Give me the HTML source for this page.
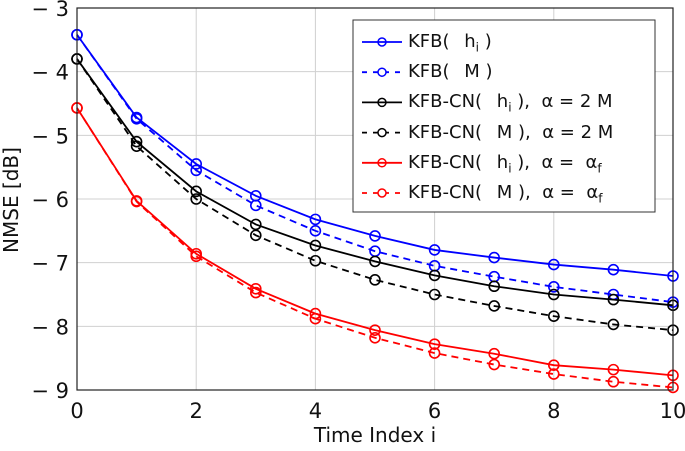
<!DOCTYPE html>
<html><head><meta charset="utf-8"><style>
body{margin:0;background:#fff}
svg{font-family:"DejaVu Sans","Liberation Sans",sans-serif}
</style></head><body>
<svg id="c" width="685" height="446">
<rect x="0" y="0" width="685" height="446" fill="#fff"/>
<g id="grid"></g><g id="series"></g><g id="axes"></g>
</svg>
<script>
const xs=[0,1,2,3,4,5,6,7,8,9,10];
const kfbH=[-3.42,-4.72,-5.45,-5.95,-6.32,-6.58,-6.8,-6.92,-7.03,-7.11,-7.21];
const kfbM=[-3.42,-4.74,-5.55,-6.1,-6.5,-6.82,-7.05,-7.22,-7.38,-7.5,-7.62];
const cnH2M=[-3.8,-5.1,-5.88,-6.4,-6.73,-6.98,-7.2,-7.37,-7.5,-7.58,-7.67];
const cnM2M=[-3.8,-5.17,-6.0,-6.57,-6.97,-7.27,-7.5,-7.68,-7.84,-7.97,-8.06];
const cnHf=[-4.57,-6.03,-6.86,-7.41,-7.8,-8.06,-8.28,-8.43,-8.61,-8.68,-8.77];
const cnMf=[-4.57,-6.04,-6.9,-7.47,-7.88,-8.18,-8.42,-8.6,-8.75,-8.87,-8.96];
const xTicks=[0,2,4,6,8,10];
const yTicks=[-3,-4,-5,-6,-7,-8,-9];
const legendLabels=['KFB(\u2002 h<sub>i</sub> )','KFB(\u2002 M )','KFB-CN(\u2002 h<sub>i</sub> ),  \u03b1 = 2 M','KFB-CN(\u2002 M ),  \u03b1 = 2 M','KFB-CN(\u2002 h<sub>i</sub> ),  \u03b1 =  \u03b1<sub>f</sub>','KFB-CN(\u2002 M ),  \u03b1 =  \u03b1<sub>f</sub>'];
const L=77,R=673,T=8,B=390;
const X=v=>L+(v-0)/10*(R-L);
const Y=v=>T+(-3-v)/6*(B-T);
const NS='http://www.w3.org/2000/svg';
function mk(tag,attrs,parent){const e=document.createElementNS(NS,tag);for(const k in attrs)e.setAttribute(k,attrs[k]);parent.appendChild(e);return e;}
const grid=document.getElementById('grid'),ser=document.getElementById('series'),ax=document.getElementById('axes');
xTicks.forEach(t=>{
 const g=mk('line',{x1:X(t),x2:X(t),y1:T,y2:B,stroke:'#d0d0d0','stroke-width':1},grid);
 
 const tk=mk('text',{x:X(t),y:B+28,'text-anchor':'middle','font-size':21,fill:'#111'},ax);
 tk.textContent=t;
 
});
yTicks.forEach(t=>{
 const g=mk('line',{x1:L,x2:R,y1:Y(t),y2:Y(t),stroke:'#d0d0d0','stroke-width':1},grid);
 
 const tk=mk('text',{x:L-8,y:Y(t)+8,'text-anchor':'end','font-size':21,fill:'#111'},ax);
 tk.textContent='\u2212 '+Math.abs(t);
 
});
const fr=mk('rect',{x:L,y:T,width:R-L,height:B-T,fill:'none',stroke:'#222','stroke-width':1.2},ax);

const series=[[kfbH,'#0000ff',false,'kfb-hi'],[kfbM,'#0000ff',true,'kfb-m'],[cnH2M,'#000',false,'kfbcn-hi-2m'],[cnM2M,'#000',true,'kfbcn-m-2m'],[cnHf,'#ff0000',false,'kfbcn-hi-af'],[cnMf,'#ff0000',true,'kfbcn-m-af']];
series.forEach(([d,c,dash,n])=>{
 const g=mk('g',{},ser);
 
 const p=mk('polyline',{points:d.map((v,i)=>X(xs[i])+','+Y(v)).join(' '),fill:'none',stroke:c,'stroke-width':1.8,'stroke-dasharray':dash?'7 5':'none'},g);
 
 d.forEach((v,i)=>{const m=mk('circle',{cx:X(xs[i]),cy:Y(v),r:5,fill:'none',stroke:c,'stroke-width':1.6},g);
 });
});
const lg=mk('g',{},ax);

mk('rect',{x:353,y:20,width:302,height:192,fill:'#fff',stroke:'#333','stroke-width':1},lg);
series.forEach(([d,c,dash,n],i)=>{
 const y=42+i*30.2;
 const e=mk('g',{},lg);
 
 mk('line',{x1:362,x2:402,y1:y,y2:y,stroke:c,'stroke-width':1.8,'stroke-dasharray':dash?'5 6':'none'},e);
 mk('circle',{cx:382,cy:y,r:4,fill:dash?'#fff':'none',stroke:c,'stroke-width':1.5},e);
 const fo=mk('foreignObject',{x:408,y:y-14,width:245,height:28},e);
 fo.innerHTML='<div xmlns="http://www.w3.org/1999/xhtml" style="font-family:\'DejaVu Sans\',sans-serif;font-size:18px;line-height:28px;white-space:pre;color:#111">'+legendLabels[i].replace(/<sub>/g,'<sub style="font-size:12px">')+'</div>';
});
const xl=mk('text',{x:375,y:442,'text-anchor':'middle','font-size':20,fill:'#111'},ax);
xl.textContent='Time Index  i';

const yl=mk('text',{x:0,y:0,'text-anchor':'middle','font-size':20,fill:'#111',transform:'translate(18,200) rotate(-90)'},ax);
yl.textContent='NMSE [dB]';

</script>
</body></html>
